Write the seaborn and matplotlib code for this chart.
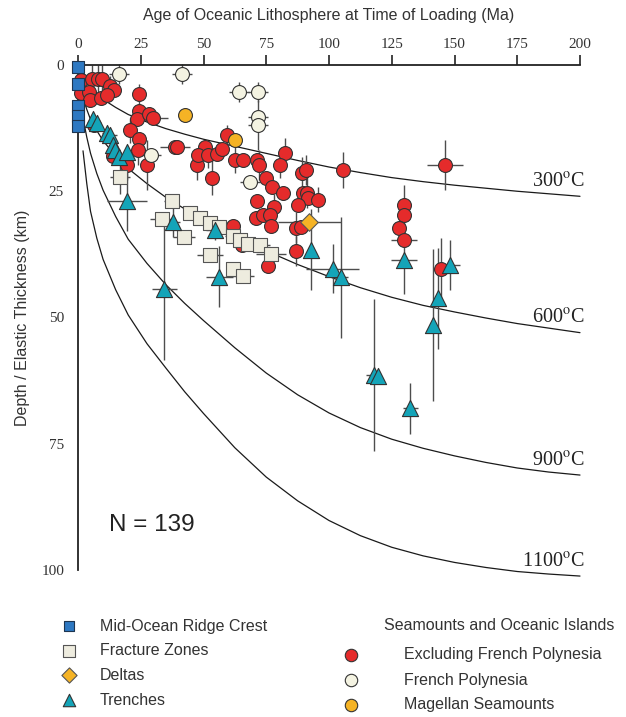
import matplotlib
matplotlib.use('Agg')
import matplotlib.pyplot as plt
import seaborn as sns

sns.set_style('white')
plt.rcParams['font.family'] = ['Liberation Sans', 'DejaVu Sans']
plt.rcParams['mathtext.fontset'] = 'stix'

SERIF = 'Liberation Serif'

# ---- isotherms ----
iso_age = [2, 3.5, 5, 7.5, 10, 15, 20, 27.5, 35, 42.5, 50, 62.5, 75, 87.5, 100,
           112.5, 125, 137.5, 150, 162.5, 175, 187.5, 200]
iso_300 = [2.5, 3.6, 4.6, 5.8, 6.8, 8.4, 9.8, 11.3, 12.6, 13.7, 14.7, 16.1, 17.5, 18.9, 20.2,
           21.3, 22.3, 23.1, 23.8, 24.4, 25.0, 25.5, 26.0]
iso_600 = [6.5, 8.8, 10.8, 13.0, 15.0, 18.0, 20.5, 23.5, 26.2, 28.5, 30.5, 33.8, 36.8, 39.5, 41.9,
           44.1, 46.0, 47.6, 48.9, 50.1, 51.2, 52.1, 53.0]
iso_900 = [10.5, 14.3, 17.5, 21.5, 24.8, 30.0, 34.5, 39.3, 43.5, 47.2, 50.6, 56.0, 61.0, 65.3, 68.9,
           71.8, 74.1, 75.9, 77.4, 78.7, 79.8, 80.6, 81.2]
iso_1100 = [17.0, 23.5, 29.0, 34.3, 38.5, 44.5, 49.5, 55.2, 60.0, 64.7, 69.0, 75.8, 81.6, 86.3, 90.2,
            93.2, 95.5, 97.2, 98.5, 99.5, 100.3, 100.8, 101.2]
iso_names = ['300', '600', '900', '1100']

# ---- Mid-ocean ridge crest ----
mor_age = [0, 0, 0, 0, 0]
mor_depth = [0.3, 3.8, 8.1, 10.1, 12.1]

# ---- Fracture zones ----
fz_age = [16.7, 37.3, 33.3, 44.6, 48.6, 52.6, 42.2, 56.3, 61.6, 64.5, 67.8, 72.5, 77.0, 52.6, 61.6, 65.6]
fz_depth = [22.1, 27.0, 30.4, 29.3, 30.3, 31.3, 34.0, 32.1, 33.8, 34.6, 35.4, 35.6, 37.4, 37.6, 40.4, 41.8]
fz_xerr = [4, 3, 4.5, 0, 0, 0, 4.5, 3, 3, 3, 3, 4, 6, 5, 0, 4.5]
fz_yerr = [3.5, 0, 0, 0, 0, 0, 0, 0, 0, 0, 0, 0, 0, 0, 0, 0]

# ---- Deltas ----
dl_age = [92.2]
dl_depth = [31.0]
dl_xerr = [12.5]
dl_yerr = [0]

# ---- Trenches ----
tr_age = [6.1, 7.4, 11.4, 12.7, 13.9, 14.7, 16.5, 19.4, 19.4, 34.3, 37.7, 54.6, 56.3,
          92.7, 101.5, 104.6, 117.9, 119.6, 129.9, 132.3, 141.6, 143.6, 148.2]
tr_depth = [10.6, 11.4, 13.5, 13.9, 15.8, 16.8, 18.3, 17.2, 26.9, 44.4, 31.0, 32.7, 41.9,
            36.6, 40.3, 42.0, 61.4, 61.6, 38.6, 68.0, 51.5, 46.2, 39.6]
tr_xerr = [1.5, 0, 2, 3, 0, 2, 0, 0, 8, 5, 3, 3.6, 5.3, 0, 10.5, 3, 3, 0, 5, 3, 0, 0, 4]
tr_yerr = [0, 0, 0, 0, 0, 0, 0, 0, 6, 14, 3, 2, 6, 8, 4.8, 12, 15, 0, 6.7, 5, 15, 10, 5]

# ---- Seamounts: excluding French Polynesia ----
red_age = [1.0, 5.5, 8.1, 9.6, 1.2, 4.5, 4.6, 9.0, 12.7, 14.5, 11.4,
           24.4, 24.4, 23.4, 28.4, 29.7, 20.7, 24.4, 24.0, 19.4, 27.4, 38.6, 39.6,
           47.5, 50.6, 47.9, 51.9, 55.3, 57.4, 59.4, 53.5, 62.5, 65.8, 71.2, 72.2,
           82.6, 80.5, 74.9, 77.2, 81.6, 89.1, 90.7, 105.6, 71.4, 78.1, 70.9, 73.8,
           76.5, 76.8, 89.5, 91.1, 91.8, 87.8, 95.7, 61.6, 86.9, 88.7, 86.9, 75.6,
           65.4, 129.9, 129.9, 128.0, 129.9, 144.5, 146.2, 14.1, 6.3]
red_depth = [3.0, 2.8, 2.8, 2.8, 5.5, 5.3, 7.0, 6.6, 4.2, 5.0, 5.9,
             5.8, 9.2, 10.6, 9.8, 10.4, 12.9, 14.7, 16.8, 19.8, 19.8, 16.3, 16.3,
             19.8, 16.3, 17.8, 17.8, 17.7, 16.6, 13.8, 22.3, 18.8, 18.8, 18.8, 19.8,
             17.4, 19.8, 22.3, 24.1, 25.3, 21.3, 20.8, 20.8, 26.9, 28.1, 30.2, 29.7,
             29.8, 31.9, 25.4, 25.3, 26.4, 27.7, 26.7, 31.9, 32.2, 32.0, 36.8, 39.8,
             35.6, 27.7, 29.7, 32.2, 34.7, 40.3, 19.8, 18.0, 11.9]
red_xerr = [0, 0, 0, 0, 0, 0, 0, 0, 0, 0, 0,
            0, 0, 0, 0, 6, 0, 0, 0, 0, 0, 6, 0,
            0, 0, 0, 0, 0, 0, 0, 0, 0, 0, 0, 0,
            0, 0, 0, 0, 0, 0, 0, 2.5, 0, 0, 0, 0,
            0, 0, 0, 0, 0, 0, 0, 0, 0, 0, 0, 0,
            0, 0, 0, 0, 5, 0, 7, 0, 0]
red_yerr = [2.5, 2.8, 2.8, 2.8, 0, 0, 0, 0, 2, 0, 0,
            2, 0, 0, 0, 0, 2.5, 0, 3, 3, 5, 0, 0,
            3, 0, 0, 2.5, 0, 0, 2, 3.5, 2.5, 0, 0, 3,
            3, 2.5, 0, 0, 0, 3, 3, 3.5, 0, 2.5, 0, 0,
            0, 0, 0, 3, 0, 0, 2.5, 0, 3, 0, 3, 0,
            0, 4, 0, 0, 0, 6, 5, 0, 0]

# ---- Seamounts: French Polynesia ----
fp_age = [16.5, 41.6, 64.3, 71.8, 71.6, 71.6, 29.1, 68.5]
fp_depth = [1.8, 1.8, 5.3, 5.3, 10.2, 11.9, 17.8, 23.1]
fp_xerr = [4, 4, 4, 4, 4, 4, 4, 4]
fp_yerr = [2, 2, 2, 2, 0, 5, 0, 0]

# ---- Seamounts: Magellan ----
mg_age = [42.6, 62.5]
mg_depth = [9.9, 14.9]

RED = '#E52B2B'
CREAM = '#F4F3E2'
ORANGE = '#F5B325'
TEAL = '#14A4B8'
BLUE = '#2D78C2'
FZ = '#EEECDF'
EDGE = '#333333'
ERR = '#4d4d4d'

fig = plt.figure(figsize=(6.26, 7.17), dpi=100)
ax = fig.add_axes([78 / 626, 1 - 570 / 717, 502 / 626, 505 / 717])


def errs(ax, x, y, xe, ye):
    ax.errorbar(x, y, xerr=xe, yerr=ye, fmt='none', ecolor=ERR,
                elinewidth=1.0, capsize=0, zorder=2, clip_on=False)


def pts(ax, x, y, marker, s, face, edge, z):
    sns.scatterplot(x=x, y=y, marker=marker, s=s, color=face, edgecolor=edge,
                    linewidth=0.8, zorder=z, ax=ax, legend=False, clip_on=False)


# isotherm curves
for name, d in zip(iso_names, [iso_300, iso_600, iso_900, iso_1100]):
    sns.lineplot(x=iso_age, y=d, color='#1a1a1a', lw=0.9, ax=ax, zorder=1.5,
                 sort=False, estimator=None, clip_on=False)
    ax.text(202, d[-1] - 0.9, name + r'$^{\mathrm{o}}$C', ha='right', va='bottom',
            fontsize=14.5, fontfamily=SERIF, color='#222222')

errs(ax, red_age, red_depth, red_xerr, red_yerr)
errs(ax, fp_age, fp_depth, fp_xerr, fp_yerr)
errs(ax, fz_age, fz_depth, fz_xerr, fz_yerr)
errs(ax, tr_age, tr_depth, tr_xerr, tr_yerr)
errs(ax, dl_age, dl_depth, dl_xerr, dl_yerr)

pts(ax, red_age, red_depth, 'o', 100, RED, EDGE, 3)
pts(ax, fp_age, fp_depth, 'o', 100, CREAM, EDGE, 3.1)
pts(ax, mg_age, mg_depth, 'o', 100, ORANGE, EDGE, 3.2)
pts(ax, fz_age, fz_depth, 's', 95, FZ, '#555555', 4)
pts(ax, tr_age, tr_depth, '^', 135, TEAL, EDGE, 5)
pts(ax, dl_age, dl_depth, 'D', 80, ORANGE, '#555555', 6)
pts(ax, mor_age, mor_depth, 's', 80, BLUE, '#1d3550', 6)

ax.set_xlim(0, 200)
ax.set_ylim(100, 0)
ax.xaxis.tick_top()
ax.xaxis.set_label_position('top')
ax.set_xticks([0, 25, 50, 75, 100, 125, 150, 175, 200])
ax.set_yticks([0, 25, 50, 75, 100])
for side in ['right', 'bottom']:
    ax.spines[side].set_visible(False)
for side in ['left', 'top']:
    ax.spines[side].set_linewidth(1.3)
    ax.spines[side].set_color('#222222')
ax.tick_params(axis='both', direction='out', length=7, width=1.2, color='#222222',
               labelcolor='#333333', labelsize=11)
ax.tick_params(axis='x', pad=3)
ax.tick_params(axis='y', pad=3)
for lbl in ax.get_xticklabels() + ax.get_yticklabels():
    lbl.set_fontfamily(SERIF)
ax.set_xlabel('Age of Oceanic Lithosphere at Time of Loading (Ma)', fontsize=11.5,
              color='#333333', labelpad=13)
ax.set_ylabel('Depth / Elastic Thickness (km)', fontsize=11.5, color='#333333', labelpad=8)
ax.grid(False)
ax.set_facecolor('none')

ax.text(12.5, 91, 'N = 139', fontsize=17.5, color='#222222', va='center', ha='left')

# ---- legend (own axes in pixel units) ----
lg = fig.add_axes([0, 0, 1, 1], zorder=-1)
lg.set_xlim(0, 626)
lg.set_ylim(717, 0)
lg.axis('off')

left_items = [('s', BLUE, '#1d3550', 55, 'Mid-Ocean Ridge Crest'),
              ('s', FZ, '#555555', 70, 'Fracture Zones'),
              ('D', ORANGE, '#555555', 60, 'Deltas'),
              ('^', TEAL, EDGE, 80, 'Trenches')]
for i, (m, fc, ec, s, label) in enumerate(left_items):
    yy = 626 + i * 24.7
    lg.scatter([69], [yy], marker=m, s=s, color=fc, edgecolor=ec, linewidth=0.8)
    lg.text(100, yy, label, fontsize=11.5, va='center', ha='left', color='#333333')

lg.text(384, 626, 'Seamounts and Oceanic Islands', fontsize=11.5, va='center',
        ha='left', color='#333333')
right_items = [(RED, 'Excluding French Polynesia'),
               (CREAM, 'French Polynesia'),
               (ORANGE, 'Magellan Seamounts')]
for i, (fc, label) in enumerate(right_items):
    yy = 655 + i * 25
    lg.scatter([351], [yy], marker='o', s=80, color=fc, edgecolor=EDGE, linewidth=0.8)
    lg.text(404, yy, label, fontsize=11.5, va='center', ha='left', color='#333333')

fig.savefig('out.png', dpi=100)
